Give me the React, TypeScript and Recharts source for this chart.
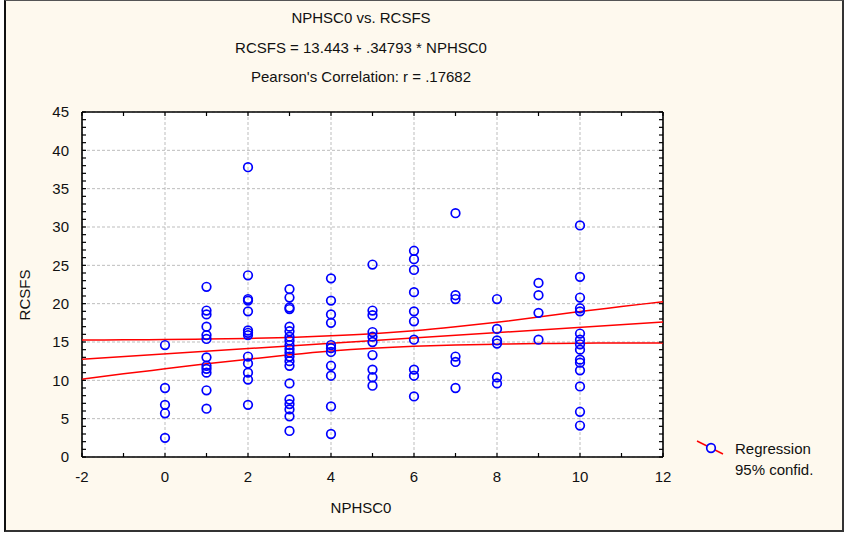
import React from "react";
import { ScatterChart, Scatter, XAxis, YAxis, CartesianGrid } from "recharts";

// NPHSC0 score levels and the RCSFS values observed at each level
const NPHSC0_LEVELS = [0, 1, 2, 3, 4, 5, 6, 7, 8, 9, 10];
const RCSFS_BY_LEVEL = [
  [14.6, 9.0, 6.8, 5.7, 2.5],
  [22.2, 19.1, 18.6, 17.0, 15.9, 15.4, 13.0, 11.9, 11.5, 11.0, 8.7, 6.3],
  [37.8, 23.7, 20.6, 20.4, 19.0, 16.5, 16.2, 15.9, 13.1, 12.2, 11.0, 10.1, 6.8],
  [21.9, 20.8, 19.5, 19.3, 17.0, 16.4, 15.7, 15.2, 14.6, 14.1, 13.6, 13.1, 12.5, 11.9, 9.6, 7.5, 6.9, 6.2, 5.3, 3.4],
  [23.3, 20.4, 18.6, 17.5, 14.6, 14.2, 13.7, 11.9, 10.6, 6.6, 3.0],
  [25.1, 19.1, 18.5, 16.3, 15.7, 15.0, 13.3, 11.4, 10.4, 9.3],
  [26.9, 25.8, 24.4, 21.5, 19.0, 17.7, 15.3, 11.4, 10.6, 7.9],
  [31.8, 21.1, 20.6, 13.1, 12.4, 9.0],
  [20.6, 16.7, 15.2, 14.8, 10.4, 9.6],
  [22.7, 21.1, 18.8, 15.3],
  [30.2, 23.5, 20.8, 19.4, 19.0, 16.1, 15.3, 14.7, 14.0, 12.7, 12.3, 11.3, 9.2, 5.9, 4.1],
];

// fitted line: RCSFS = 13.443 + .34793 * NPHSC0
const INTERCEPT = 13.443;
const SLOPE = 0.34793;
const FIT_RANGE = [-2, 12];

// 95% confidence band around the fit
const BAND_X = [-2, -1, 0, 1, 2, 3, 4, 5, 6, 7, 8, 9, 10, 11, 12];
const BAND_UPPER = [15.26, 15.28, 15.32, 15.38, 15.47, 15.6, 15.8, 16.08, 16.47, 16.98, 17.57, 18.25, 18.98, 19.62, 20.26];
const BAND_LOWER = [10.15, 10.85, 11.5, 12.15, 12.75, 13.33, 13.83, 14.2, 14.46, 14.62, 14.72, 14.79, 14.84, 14.87, 14.88];

const X_TICKS = [-2, -1, 0, 1, 2, 3, 4, 5, 6, 7, 8, 9, 10, 11, 12];
const X_GRID = [-2, 0, 2, 4, 6, 8, 10, 12];
const Y_GRID = [0, 5, 10, 15, 20, 25, 30, 35, 40, 45];
const Y_TICKS = Array.from({ length: 46 }, (_, i) => i);

const points = NPHSC0_LEVELS.flatMap((lvl, i) =>
  RCSFS_BY_LEVEL[i].map((v) => ({ x: lvl, y: v }))
);
const fitLine = FIT_RANGE.map((x) => ({ x, y: INTERCEPT + SLOPE * x }));
const upperBand = BAND_X.map((x, i) => ({ x, y: BAND_UPPER[i] }));
const lowerBand = BAND_X.map((x, i) => ({ x, y: BAND_LOWER[i] }));

const FONT = "'Liberation Sans', Arial, sans-serif";
const TICK_LEN = 4;
const INK = "#000";

function BottomTick({ x, y, payload }: any) {
  const major = payload.value % 2 === 0;
  return (
    <g>
      <line x1={x} y1={y} x2={x} y2={y - TICK_LEN} stroke={INK} strokeWidth={1.2} />
      {major && (
        <text x={x} y={y + 25} textAnchor="middle" fontSize={15} fontFamily={FONT} fill="#111">
          {payload.value}
        </text>
      )}
    </g>
  );
}

function TopTick({ x, y }: any) {
  return <line x1={x} y1={y} x2={x} y2={y + TICK_LEN} stroke={INK} strokeWidth={1.2} />;
}

function LeftTick({ x, y, payload }: any) {
  const major = payload.value % 5 === 0;
  return (
    <g>
      <line x1={x} y1={y} x2={x + TICK_LEN} y2={y} stroke={INK} strokeWidth={1.2} />
      {major && (
        <text x={x - 13} y={y} dy="0.36em" textAnchor="end" fontSize={15} fontFamily={FONT} fill="#111">
          {payload.value}
        </text>
      )}
    </g>
  );
}

function RightTick({ x, y }: any) {
  return <line x1={x} y1={y} x2={x - TICK_LEN} y2={y} stroke={INK} strokeWidth={1.2} />;
}

function Ring({ cx, cy }: any) {
  return <circle cx={cx} cy={cy} r={4.3} fill="none" stroke="#0000ff" strokeWidth={1.7} />;
}

const NoDot = () => <g />;

const redLine = { stroke: "#ff0000", strokeWidth: 1.5 };
const axisLine = { stroke: INK, strokeWidth: 1.6 };

const textStyle: React.CSSProperties = {
  position: "absolute",
  fontFamily: FONT,
  fontSize: 15,
  color: "#111",
  whiteSpace: "nowrap",
  lineHeight: "18px",
};

function Centered({ y, children }: { y: number; children: React.ReactNode }) {
  return (
    <div style={{ ...textStyle, left: 0, width: 722, top: y, textAlign: "center" }}>{children}</div>
  );
}

export default function App() {
  return (
    <div style={{ position: "absolute", left: 0, top: 0, width: 846, height: 533, background: "#fff" }}>
      <div
        style={{
          position: "absolute",
          left: 4,
          top: 0,
          width: 840,
          height: 532,
          boxSizing: "border-box",
          background: "#fef9ee",
          borderLeft: "2px solid #111",
          borderTop: "1px solid #555",
          borderRight: "2px solid #333",
          borderBottom: "2px solid #333",
        }}
      />

      <Centered y={9}>NPHSC0 vs. RCSFS</Centered>
      <Centered y={39}>RCSFS = 13.443 + .34793 * NPHSC0</Centered>
      <Centered y={68}>Pearson's Correlation: r = .17682</Centered>
      <Centered y={499}>NPHSC0</Centered>

      <div
        style={{
          ...textStyle,
          left: 25,
          top: 295,
          transform: "translate(-50%, -50%) rotate(-90deg)",
        }}
      >
        RCSFS
      </div>

      <div style={{ position: "absolute", left: 0, top: 0 }}>
        <ScatterChart width={846} height={533} margin={{ top: 102, right: 173, bottom: 46, left: 42 }}>
          <CartesianGrid
            fill="#fff"
            stroke="#bdbdbd"
            strokeDasharray="3 2"
            verticalValues={X_GRID}
            horizontalValues={Y_GRID}
          />
          <XAxis
            type="number"
            dataKey="x"
            domain={[-2, 12]}
            ticks={X_TICKS}
            interval={0}
            allowDataOverflow
            height={30}
            tickSize={0}
            tickMargin={0}
            tickLine={false}
            axisLine={axisLine}
            tick={BottomTick}
          />
          <XAxis
            xAxisId="top"
            orientation="top"
            type="number"
            dataKey="x"
            domain={[-2, 12]}
            ticks={X_TICKS}
            interval={0}
            allowDataOverflow
            height={10}
            tickSize={0}
            tickMargin={0}
            tickLine={false}
            axisLine={axisLine}
            tick={TopTick}
          />
          <YAxis
            type="number"
            dataKey="y"
            domain={[0, 45]}
            ticks={Y_TICKS}
            interval={0}
            allowDataOverflow
            width={40}
            tickSize={0}
            tickMargin={0}
            tickLine={false}
            axisLine={axisLine}
            tick={LeftTick}
          />
          <YAxis
            yAxisId="right"
            orientation="right"
            type="number"
            dataKey="y"
            domain={[0, 45]}
            ticks={Y_TICKS}
            interval={0}
            allowDataOverflow
            width={10}
            tickSize={0}
            tickMargin={0}
            tickLine={false}
            axisLine={axisLine}
            tick={RightTick}
          />
          <Scatter data={upperBand} line={redLine} lineJointType="monotoneX" shape={NoDot} isAnimationActive={false} />
          <Scatter data={lowerBand} line={redLine} lineJointType="monotoneX" shape={NoDot} isAnimationActive={false} />
          <Scatter data={fitLine} line={redLine} shape={NoDot} isAnimationActive={false} />
          <Scatter data={points} shape={Ring} isAnimationActive={false} />
        </ScatterChart>
      </div>

      <svg style={{ position: "absolute", left: 694, top: 438 }} width={32} height={20}>
        <line x1={3} y1={3} x2={29} y2={16} stroke="#ff0000" strokeWidth={1.5} />
        <circle cx={17} cy={10} r={4.3} fill="#fef9ee" stroke="#0000ff" strokeWidth={1.7} />
      </svg>
      <div style={{ ...textStyle, left: 735, top: 438, lineHeight: "21px" }}>
        Regression
        <br />
        95% confid.
      </div>
    </div>
  );
}
